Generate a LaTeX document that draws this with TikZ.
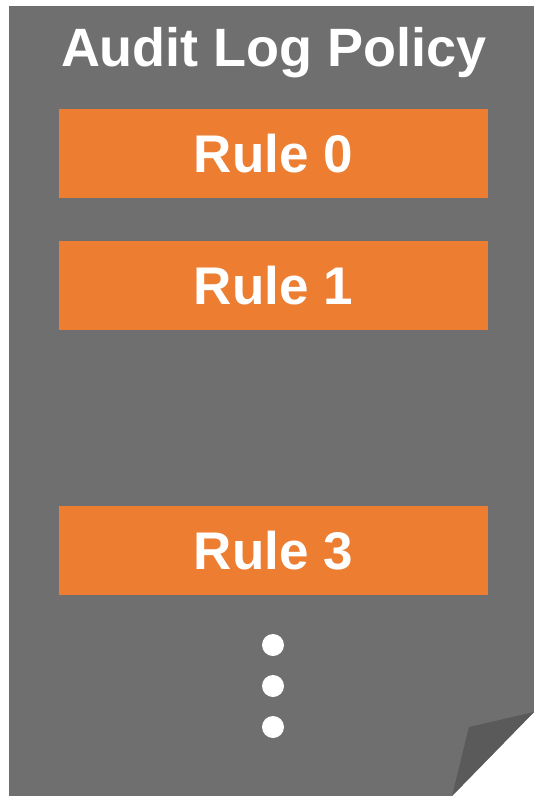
\documentclass[tikz,border=0pt]{standalone}
\usepackage{fontspec}
\setmainfont{Liberation Sans}
\usepackage{xcolor}
\usetikzlibrary{positioning}
\definecolor{pagegray}{HTML}{6F6F6F}
\definecolor{flapgray}{HTML}{5A5A5A}
\definecolor{ruleorange}{HTML}{ED7D31}

\begin{document}
\begin{tikzpicture}[
  x=1pt, y=-1pt,
  node distance=43pt,
  rule/.style={rectangle, fill=ruleorange, minimum width=429pt, minimum height=89pt, inner sep=0pt, text=white, font=\fontsize{53}{60}\selectfont\bfseries},
  dot/.style={circle, fill=white, minimum size=22pt, inner sep=0pt}
]
  \useasboundingbox (0,0) rectangle (534,796);
  % page with folded corner
  \fill[pagegray] (9,6) -- (534,6) -- (534,712) -- (452,796) -- (9,796) -- cycle;
  \fill[flapgray] (534,712) -- (469,727) -- (452,796) -- cycle;

  \node[anchor=base, text=white, font=\fontsize{54}{60}\selectfont\bfseries] (title) at (274,66) {Audit Log Policy};

  \node[rule] (rule0) at (273.5,153.5) {Rule 0};
  \node[rule, below=of rule0] (rule1) {Rule 1};
  \node[rule, below=175pt of rule1] (rule3) {Rule 3};

  \node[dot] (dot1) at (273,645) {};
  \node[dot] (dot2) at (273,686) {};
  \node[dot] (dot3) at (273,727) {};
\end{tikzpicture}
\end{document}
